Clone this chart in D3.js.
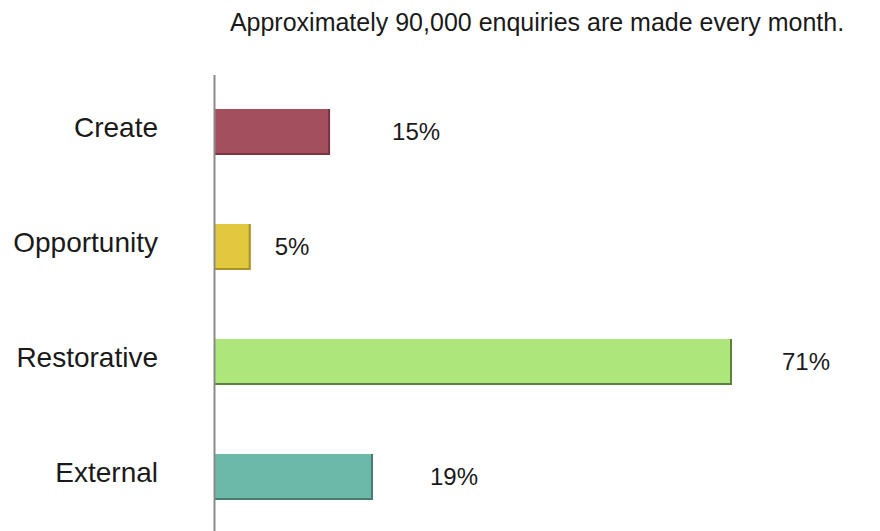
<!DOCTYPE html>
<html>
<head>
<meta charset="utf-8">
<script src="https://cdn.jsdelivr.net/npm/d3@7"></script>
<style>
  html, body { margin: 0; padding: 0; background: #fff; }
  svg { display: block; font-family: "Liberation Sans", Arial, sans-serif; }
</style>
</head>
<body>
<svg id="chart" width="880" height="531"></svg>
<script>
// data
const categories = ["Create", "Opportunity", "Restorative", "External"];
const barValues = [15.8, 4.9, 71, 21.7];          // bar lengths, in % units
const valueLabels = ["15%", "5%", "71%", "19%"];   // printed labels
const titleText = "Approximately 90,000 enquiries are made every month.";

const colors = ["#a44f5d", "#e1c83e", "#ade67b", "#6cb9a8"];
const edges = ["#7b3542", "#a8922a", "#5f8040", "#467e71"];
// extra space between bar end and its label
const labelGap = [62, 24, 50, 57];

const svg = d3.select("#chart");
const width = 880;
const height = 531;

const x = d3.scaleLinear().domain([0, 71]).range([215, 732]);
const y = d3.scaleBand().domain(categories).range([40, 569]).padding(0.6);

// title
svg.append("text")
    .attr("x", 537)
    .attr("y", 31)
    .attr("text-anchor", "middle")
    .attr("font-size", "25px")
    .attr("fill", "#1a1a1a")
    .text(titleText);

// bars
categories.forEach((c, i) => {
    const x0 = x(0), x1 = x(barValues[i]);
    const y0 = y(c), h = y.bandwidth();

    svg.append("rect")
        .attr("x", x0)
        .attr("y", y0)
        .attr("width", x1 - x0)
        .attr("height", h)
        .attr("fill", colors[i]);

    // darker right and bottom edge
    svg.append("path")
        .attr("d", `M${x1 - 1},${y0} L${x1 - 1},${y0 + h - 1} L${x0},${y0 + h - 1}`)
        .attr("fill", "none")
        .attr("stroke", edges[i])
        .attr("stroke-width", 2);

    svg.append("text")
        .attr("x", x1 + labelGap[i])
        .attr("y", y0 + h / 2)
        .attr("dy", "0.35em")
        .attr("font-size", "24px")
        .attr("fill", "#1a1a1a")
        .text(valueLabels[i]);

    svg.append("text")
        .attr("x", 158)
        .attr("y", y0 + h / 2 - 5)
        .attr("dy", "0.35em")
        .attr("text-anchor", "end")
        .attr("font-size", "28px")
        .attr("fill", "#1a1a1a")
        .text(c);
});

// vertical axis line
svg.append("line")
    .attr("x1", 214.5)
    .attr("x2", 214.5)
    .attr("y1", 75)
    .attr("y2", height)
    .attr("stroke", "#8a8a8a")
    .attr("stroke-width", 2);
</script>
</body>
</html>
